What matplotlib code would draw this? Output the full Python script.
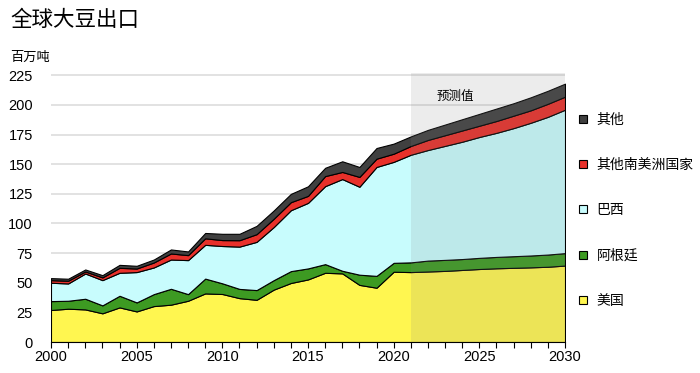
import matplotlib.pyplot as plt
from matplotlib.lines import Line2D
from matplotlib.patches import Rectangle

plt.rcParams['font.family'] = ['Liberation Sans', 'Noto Sans CJK SC', 'DejaVu Sans']

# data (million tonnes)
years = list(range(2000, 2031))
usa = [27.0, 28.1, 27.5, 24.2, 29.2, 25.8, 30.3, 31.5, 34.8, 41.0,
       40.5, 37.0, 35.6, 44.2, 49.8, 52.8, 58.4, 57.9, 48.2, 45.8,
       59.3, 59.0, 59.5, 60.0, 60.8, 61.6, 62.2, 62.6, 63.0, 63.5, 64.5]
argentina = [7.5, 6.7, 9.0, 6.7, 9.8, 7.6, 10.1, 13.4, 5.6, 12.5,
             9.0, 7.8, 8.2, 8.0, 10.0, 9.3, 7.3, 2.2, 8.6, 10.0,
             7.5, 8.2, 9.2, 9.3, 9.2, 9.4, 9.6, 9.8, 10.0, 10.3, 10.5]
brazil = [15.5, 14.6, 21.3, 21.3, 19.4, 25.6, 22.5, 24.7, 28.7, 28.5,
          31.5, 35.7, 40.7, 44.8, 51.4, 55.3, 65.8, 77.4, 74.2, 91.9,
          85.2, 90.8, 93.3, 96.2, 99.0, 102.0, 104.7, 108.1, 112.0, 116.2, 121.0]
other_south_america = [2.2, 2.3, 1.7, 2.3, 4.2, 3.0, 4.2, 5.1, 4.2, 5.5,
                       5.0, 5.4, 6.5, 7.0, 6.8, 5.9, 8.5, 6.0, 8.3, 7.0,
                       6.9, 7.4, 8.5, 9.0, 9.5, 9.5, 10.0, 10.5, 10.5, 11.0, 11.0]
other = [1.7, 1.7, 1.7, 1.9, 2.5, 2.3, 2.5, 3.4, 3.1, 4.5,
         5.3, 5.4, 7.0, 7.0, 7.0, 8.1, 7.0, 9.0, 8.4, 9.0,
         8.5, 8.1, 8.5, 9.0, 9.5, 10.0, 10.5, 10.5, 11.0, 11.0, 11.0]

labels = ['美国', '阿根廷', '巴西', '其他南美洲国家', '其他']
colors = ['#fff650', '#3d9a22', '#c8fcfd', '#e8302a', '#404040']
forecast_start = 2021

fig = plt.figure(figsize=(7, 3.73), dpi=100)
ax = fig.add_axes([51 / 700, 1 - 342 / 373, 514 / 700, 269 / 373])

ax.stackplot(years, usa, argentina, brazil, other_south_america, other,
             colors=colors, edgecolor='black', linewidth=0.8, zorder=2)

# forecast shading
ax.add_patch(Rectangle((forecast_start, 0), years[-1] - forecast_start, 227,
                       facecolor='#808080', alpha=0.15, edgecolor='none', zorder=3))
ax.text(2023.6, 207, '预测值', ha='center', va='center', fontsize=9, zorder=4)

ax.set_xlim(2000, 2030)
ax.set_ylim(0, 227)
ax.set_yticks(range(0, 226, 25))
ax.set_xticks(range(2000, 2031, 5))
ax.set_xticks(years, minor=True)
ax.grid(axis='y', color='#dddddd', linewidth=1.2, zorder=0)
for side in ['left', 'right', 'top']:
    ax.spines[side].set_visible(False)
ax.spines['bottom'].set_linewidth(0.8)
ax.tick_params(axis='y', length=0, labelsize=10.5, pad=13)
ax.tick_params(axis='x', which='both', length=4, width=0.8, labelsize=10.5, pad=2)
for lab in ax.get_yticklabels():
    lab.set_horizontalalignment('right')

fig.text(10 / 700, 1 - 20 / 373, '全球大豆出口', fontsize=15.5, va='center', ha='left')
fig.text(10 / 700, 1 - 58 / 373, '百万吨', fontsize=9.5, va='center', ha='left')

handles = [Line2D([], [], linestyle='none', marker='s', markersize=6,
                  markerfacecolor=c, markeredgecolor='black', markeredgewidth=0.8)
           for c in colors[::-1]]
ax.legend(handles, labels[::-1], loc='center left', bbox_to_anchor=(1.01, 0.49),
          frameon=False, fontsize=10, labelspacing=2.25, handlelength=0.8,
          handletextpad=0.6, borderpad=0)

fig.savefig('out.png', dpi=100)
